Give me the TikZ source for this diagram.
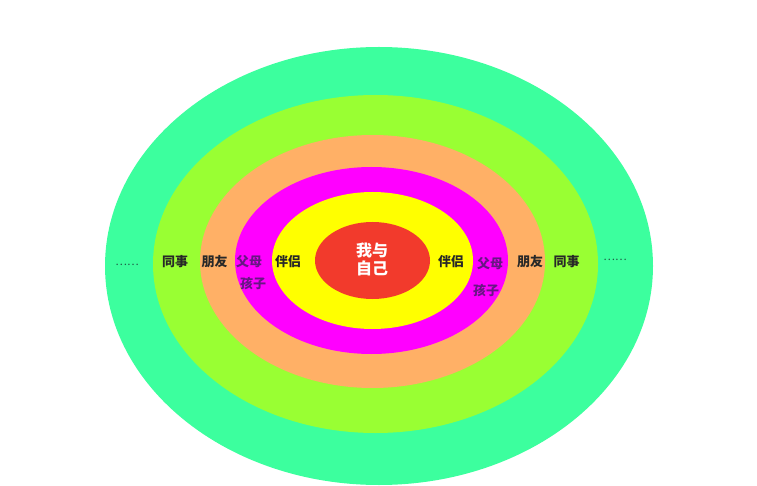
\documentclass[tikz,border=0pt]{standalone}
\usepackage{fontspec}
\newfontfamily\cjk{Noto Sans CJK SC}
\usepackage{tikz}
\usetikzlibrary{positioning}
\definecolor{mintgreen}{RGB}{60,255,158}
\definecolor{limegreen}{RGB}{153,255,51}
\definecolor{peach}{RGB}{255,176,102}
\definecolor{hotpink}{RGB}{255,0,255}
\definecolor{sunyellow}{RGB}{255,255,0}
\definecolor{lightred}{RGB}{242,58,44}
\definecolor{labeldark}{RGB}{40,40,40}
\definecolor{labelpurple}{RGB}{104,22,132}
\definecolor{dotgreen}{RGB}{30,90,70}

\begin{document}
\begin{tikzpicture}[x=1pt,y=-1pt]
\tikzstyle{every node}=[inner sep=0pt, text=labeldark, font=\cjk\bfseries\fontsize{13}{13}\selectfont]
\useasboundingbox (0,0) rectangle (757,486);
% rings, outside in
\fill[color=mintgreen] (379,266) ellipse (274pt and 219pt);
\fill[color=limegreen] (375.5,264) ellipse (222.5pt and 169pt);
\fill[color=peach] (372.5,261.5) ellipse (172.5pt and 126.5pt);
\fill[color=hotpink] (371.5,260.5) ellipse (136.5pt and 93.5pt);
\fill[color=sunyellow] (372.5,260.5) ellipse (100.5pt and 68.5pt);
\fill[color=lightred] (372.5,260.5) ellipse (57.5pt and 38.5pt);
% centre
\draw (372,259) node[align=center, text=white, font=\cjk\bfseries\fontsize{16}{18}\selectfont] (self) {我与\\自己};
% left side
\draw (288,262) node (partnerL) {伴侣};
\draw (249,262) node[text=labelpurple] (parentsL) {父母};
\draw (253,283) node[text=labelpurple] (kidsL) {孩子};
\draw (214.5,262) node (friendsL) {朋友};
\draw (175,262) node (colleaguesL) {同事};
\draw (127,265) node[text=dotgreen, font=\cjk\fontsize{11}{11}\selectfont] (moreL) {……};
% right side
\draw (451,262) node (partnerR) {伴侣};
\draw (490,264) node[text=labelpurple] (parentsR) {父母};
\draw (486,290) node[text=labelpurple] (kidsR) {孩子};
\draw (530,262) node (friendsR) {朋友};
\draw (566.5,262) node (colleaguesR) {同事};
\draw (615,260) node[text=dotgreen, font=\cjk\fontsize{11}{11}\selectfont] (moreR) {……};
\end{tikzpicture}
\end{document}
